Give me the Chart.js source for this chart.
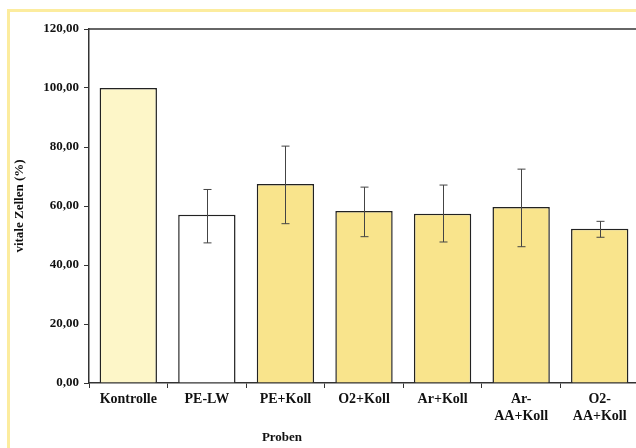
<!DOCTYPE html>
<html>
<head>
<meta charset="utf-8">
<script src="https://cdn.jsdelivr.net/npm/chart.js@4"></script>
<style>
  html, body { margin: 0; padding: 0; background: #fff; overflow: hidden; }
  #wrap { position: relative; width: 640px; height: 448px; }
</style>
</head>
<body>
<div id="wrap"><canvas id="chart"></canvas></div>
<script>
const categories = ["Kontrolle", "PE-LW", "PE+Koll", "O2+Koll", "Ar+Koll", ["Ar-", "AA+Koll"], ["O2-", "AA+Koll"]]
const values = [100, 57, 67.5, 58.3, 57.4, 59.7, 52.3]
const errLow = [100, 47.5, 54, 49.6, 47.8, 46.2, 49.4]
const errHigh = [100, 65.6, 80.3, 66.4, 67.1, 72.5, 54.8]
const barColors = ["#FDF6C8", "#FFFFFF", "#F9E48C", "#F9E48C", "#F9E48C", "#F9E48C", "#F9E48C"]
const yTicks = [0, 20, 40, 60, 80, 100, 120]

const serif = "'Liberation Serif', 'Times New Roman', serif"

// yellow frame, top border of the plot, x title
const decor = {
  id: "decor",
  beforeDraw(chart) {
    const ctx = chart.ctx
    ctx.save()
    ctx.fillStyle = "#FCEC9E"
    ctx.fillRect(7, 9, 3, 439)
    ctx.fillRect(7, 9, 633, 3)
    ctx.restore()
  },
  afterDraw(chart) {
    const ctx = chart.ctx
    const a = chart.chartArea
    ctx.save()
    ctx.strokeStyle = "#333"
    ctx.lineWidth = 1.5
    ctx.beginPath()
    ctx.moveTo(a.left, a.top)
    ctx.lineTo(a.right, a.top)
    ctx.stroke()
    ctx.fillStyle = "#111"
    ctx.font = "bold 13px " + serif
    ctx.textAlign = "center"
    ctx.textBaseline = "middle"
    ctx.fillText("Proben", 282, 438)
    ctx.restore()
  },
}

const errorBars = {
  id: "errorBars",
  afterDatasetsDraw(chart) {
    const ctx = chart.ctx
    const x = chart.scales.x
    const y = chart.scales.y
    ctx.save()
    ctx.strokeStyle = "#444"
    ctx.lineWidth = 1
    values.forEach((v, i) => {
      if (errLow[i] === errHigh[i]) return
      const px = Math.round(x.getPixelForValue(i)) + 0.5
      const lo = y.getPixelForValue(errLow[i])
      const hi = y.getPixelForValue(errHigh[i])
      ctx.beginPath()
      ctx.moveTo(px, lo)
      ctx.lineTo(px, hi)
      ctx.moveTo(px - 4, lo)
      ctx.lineTo(px + 4, lo)
      ctx.moveTo(px - 4, hi)
      ctx.lineTo(px + 4, hi)
      ctx.stroke()
    })
    ctx.restore()
  },
}

new Chart(document.getElementById("chart"), {
  type: "bar",
  data: {
    labels: categories,
    datasets: [
      {
        data: values,
        backgroundColor: barColors,
        borderColor: "#222",
        borderWidth: 1.5,
        barPercentage: 0.73,
        categoryPercentage: 1,
      },
    ],
  },
  options: {
    responsive: true,
    maintainAspectRatio: false,
    animation: false,
    layout: { padding: { left: 12, top: 29, right: 1, bottom: 0 } },
    plugins: {
      legend: { display: false },
      tooltip: { enabled: false },
    },
    scales: {
      x: {
        offset: true,
        grid: { display: true, drawOnChartArea: false, tickLength: 5, color: "#333", offset: true },
        border: { color: "#333", width: 1.5 },
        ticks: {
          color: "#111",
          font: { family: serif, weight: "bold", size: 14 },
          maxRotation: 0,
          autoSkip: false,
          padding: 3,
        },
        afterFit(scale) { scale.height = 65 },
      },
      y: {
        min: 0,
        max: 120,
        afterBuildTicks(scale) { scale.ticks = yTicks.map((v) => ({ value: v })) },
        grid: { display: true, drawOnChartArea: false, tickLength: 5, color: "#333" },
        border: { color: "#333", width: 1.5 },
        ticks: {
          color: "#111",
          font: { family: serif, weight: "bold", size: 13 },
          padding: 5,
          callback: (v) => v.toFixed(2).replace(".", ","),
        },
        title: {
          display: true,
          text: "vitale Zellen (%)",
          color: "#111",
          font: { family: serif, weight: "bold", size: 13 },
          padding: { top: 0, bottom: 0 },
        },
        afterFit(scale) { scale.width = 77 },
      },
    },
  },
  plugins: [decor, errorBars],
})
</script>
</body>
</html>
